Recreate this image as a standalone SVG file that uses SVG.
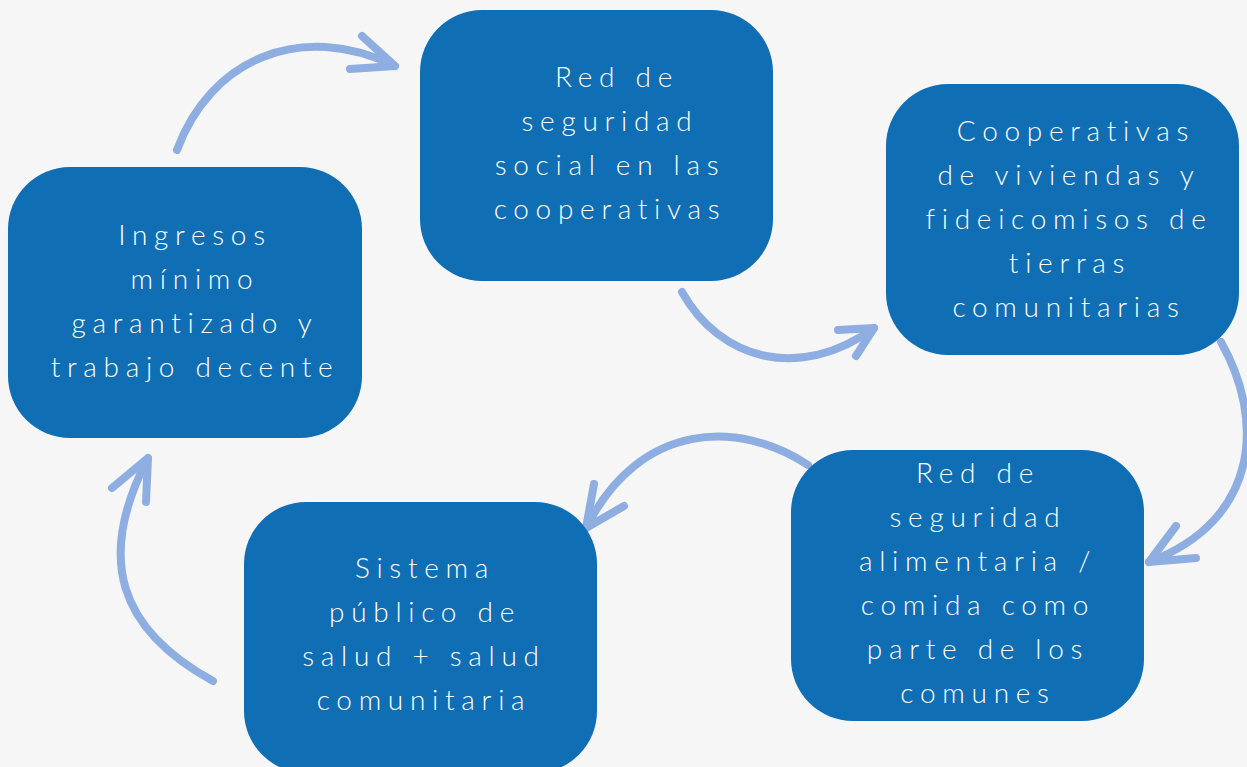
<svg xmlns="http://www.w3.org/2000/svg" width="1247" height="767" viewBox="0 0 1247 767">
<style>
.box{fill:#106eb5;}
.t{font-family:Lato,"Open Sans","Liberation Sans",sans-serif;font-weight:300;font-size:28px;letter-spacing:6.7px;fill:#ffffff;text-anchor:middle;}
.arr{fill:none;stroke:#8eaee2;stroke-width:8;stroke-linecap:round;stroke-linejoin:round;}
</style>
<rect width="1247" height="767" fill="#f6f6f6"/>
<g id="connectors">
<path class="arr" d="M177,150 C210,60 300,20 395,66"/>
<path class="arr" d="M362,36 L395,66 L350,69"/>
<path class="arr" d="M682,292 C720,360 800,382 874,328"/>
<path class="arr" d="M838,330 L874,328 L856,356"/>
<path class="arr" d="M1221,342 C1265,420 1260,520 1149,562"/>
<path class="arr" d="M1176,526 L1149,562 L1196,558"/>
<path class="arr" d="M808,465 C740,420 640,420 586,528"/>
<path class="arr" d="M594,484 L586,528 L624,506"/>
<path class="arr" d="M213,681 C120,630 95,560 148,458"/>
<path class="arr" d="M112,488 L148,458 L146,502"/>
</g>
<g id="node-ingresos">
<rect class="box" x="8" y="167" width="354" height="271" rx="62"/>
<text class="t" x="195" y="245">Ingresos</text>
<text class="t" x="195" y="289">mínimo</text>
<text class="t" x="195" y="333">garantizado y</text>
<text class="t" x="195" y="377">trabajo decente</text>
</g>
<g id="node-red-social">
<rect class="box" x="420" y="10" width="353" height="271" rx="62"/>
<text class="t" x="617" y="87">Red de</text>
<text class="t" x="610" y="131">seguridad</text>
<text class="t" x="610" y="175">social en las</text>
<text class="t" x="610" y="219">cooperativas</text>
</g>
<g id="node-cooperativas">
<rect class="box" x="886" y="84" width="353" height="271" rx="62"/>
<text class="t" x="1076" y="141">Cooperativas</text>
<text class="t" x="1069" y="185">de viviendas y</text>
<text class="t" x="1069" y="229">fideicomisos de</text>
<text class="t" x="1070" y="273">tierras</text>
<text class="t" x="1069" y="317">comunitarias</text>
</g>
<g id="node-alimentaria">
<rect class="box" x="791" y="450" width="353" height="271" rx="62"/>
<text class="t" x="978" y="483">Red de</text>
<text class="t" x="978" y="527">seguridad</text>
<text class="t" x="978" y="571">alimentaria /</text>
<text class="t" x="978" y="615">comida como</text>
<text class="t" x="978" y="659">parte de los</text>
<text class="t" x="978" y="703">comunes</text>
</g>
<g id="node-salud">
<rect class="box" x="244" y="502" width="353" height="271" rx="62"/>
<text class="t" x="425" y="578">Sistema</text>
<text class="t" x="425" y="622">público de</text>
<text class="t" x="424" y="666">salud + salud</text>
<text class="t" x="424" y="710">comunitaria</text>
</g>
</svg>
